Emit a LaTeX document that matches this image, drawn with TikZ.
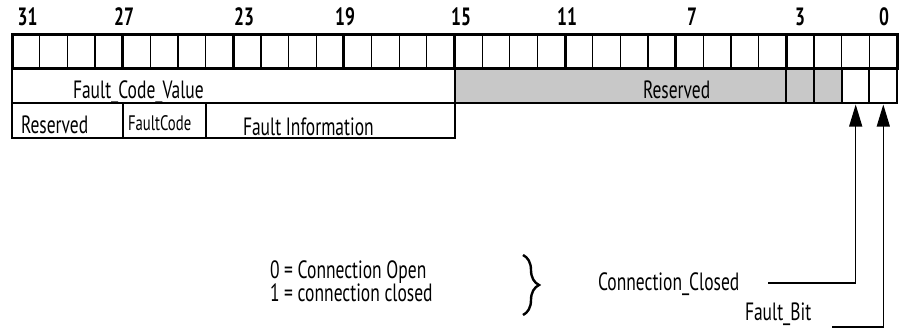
\documentclass[tikz,border=0pt]{standalone}
\usepackage{fontspec}
\setmainfont{PT Sans}[FakeStretch=0.7]
\usetikzlibrary{arrows.meta,decorations.pathreplacing}
\definecolor{resgray}{RGB}{200,200,200}
\begin{document}
\begin{tikzpicture}[x=1pt,y=-1pt,
  lbl/.style={inner sep=0pt,outer sep=0pt,anchor=base west,font=\fontsize{25}{27}\selectfont},
  smalllbl/.style={lbl,font=\fontsize{21}{23}\selectfont},
  num/.style={inner sep=0pt,outer sep=0pt,anchor=base,font=\fontsize{25}{27}\selectfont\bfseries},
  thickrule/.style={line width=3pt},
  thinrule/.style={line width=1.3pt},
  boxrule/.style={line width=2pt},
  ptr/.style={line width=1.2pt,-{Triangle[length=22pt,width=13pt]}}]
\useasboundingbox (0,0) rectangle (900,330);
\def\cw{27.656}
% bit numbers
\node[num] (n31) at (27.5,25) {31};
\node[num] (n27) at (124,25) {27};
\node[num] (n23) at (244,25) {23};
\node[num] (n19) at (345,25) {19};
\node[num] (n15) at (461,25) {15};
\node[num] (n11) at (567,25) {11};
\node[num] (n7) at (692,25) {7};
\node[num] (n3) at (800,25) {3};
\node[num] (n0) at (884,25) {0};
% row 1 grid
\foreach \i in {1,...,31}{
  \pgfmathsetmacro\xx{12+\i*\cw}
  \pgfmathtruncatemacro\m{mod(\i,4)}
  \ifnum\m=0
    \draw[thickrule] (\xx,34) -- (\xx,68);
  \else
    \draw[thinrule] (\xx,34) -- (\xx,68);
  \fi
}
\draw[thickrule] (12,34) rectangle (897.1,68);
% row 2
\fill[resgray] (454.5,68) rectangle (841.8,103);
\draw[boxrule] (12,68) rectangle (454.5,103);
\draw[boxrule] (454.5,68) rectangle (786.4,103);
\draw[boxrule] (786.4,68) rectangle (814.1,103);
\draw[boxrule] (814.1,68) rectangle (841.8,103);
\draw[boxrule] (841.8,68) rectangle (869.4,103);
\draw[boxrule] (869.4,68) rectangle (897.1,103);
\draw[thickrule] (12,68) -- (897.1,68);
\node[lbl] (fcv) at (73,98) {Fault\_Code\_Value};
\node[lbl] (res) at (643,98.5) {Reserved};
% row 3
\draw[boxrule] (12,103) rectangle (122.6,138);
\draw[boxrule] (122.6,103) rectangle (205.6,138);
\draw[boxrule] (205.6,103) rectangle (454.5,138);
\node[lbl] (res2) at (21,133) {Reserved};
\node[smalllbl] (fc) at (128,130) {FaultCode};
\node[lbl] (fi) at (243,135) {Fault Information};
% legend
\node[lbl] (l0) at (270,278) {0 = Connection Open};
\node[lbl] (l1) at (270,301) {1 = connection closed};
\coordinate (bt) at (523,255);
\coordinate (bb) at (523,315);
\draw[line width=2.4pt,decorate,decoration={brace,amplitude=16pt}] (bt) -- (bb);
% pointers
\node[lbl] (cc) at (598,290) {Connection\_Closed};
\node[lbl] (fb) at (745,320) {Fault\_Bit};
\coordinate (b1) at (855.7,104.5);
\coordinate (b0) at (883.3,104.5);
\coordinate (ccend) at (768,283);
\coordinate (fbend) at (832,327);
\draw[ptr] (ccend) -| (b1);
\draw[ptr] (fbend) -| (b0);
\end{tikzpicture}
\end{document}
